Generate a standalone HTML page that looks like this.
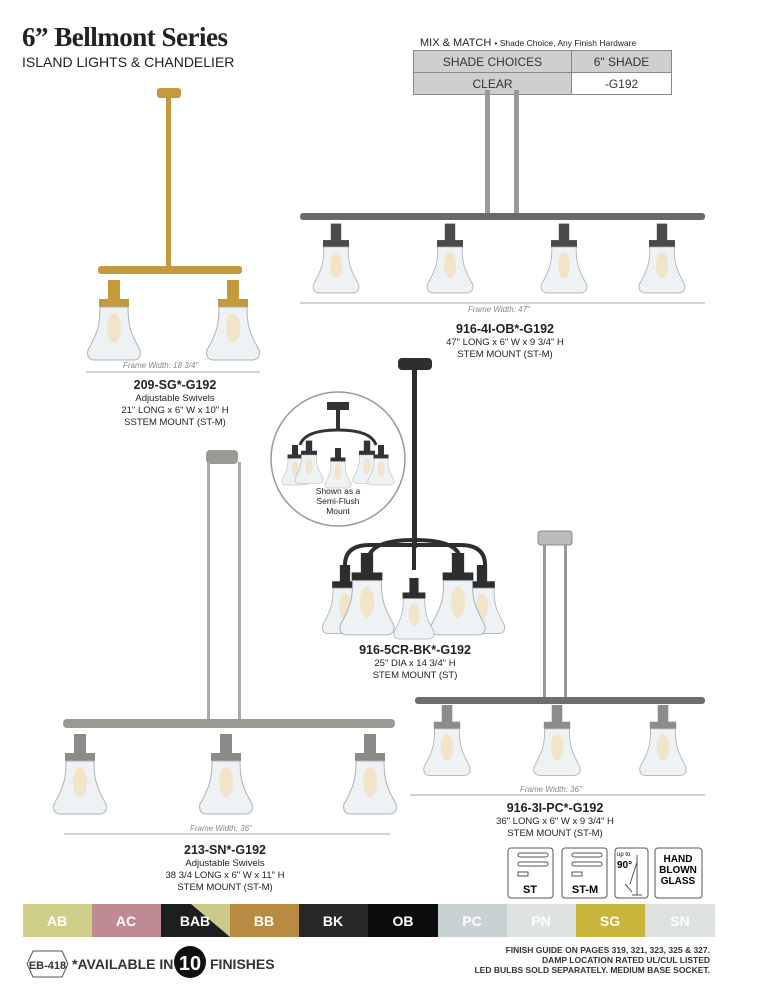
<!DOCTYPE html>
<html><head><meta charset="utf-8"><style>
body{margin:0;width:770px;height:1000px;background:#fff;position:relative;overflow:hidden;font-family:"Liberation Sans",sans-serif;color:#222}
.a{position:absolute}
.lbl{position:absolute;text-align:center;font-size:9.5px;line-height:12px;color:#222}
.lbl b{font-size:12.5px;line-height:14px}
.fw{position:absolute;font-size:8px;font-style:italic;color:#888}
</style></head><body>
<div class="a" style="left:22px;top:22px;font-family:'Liberation Serif',serif;font-weight:bold;font-size:27px;letter-spacing:-0.5px">6” Bellmont Series</div>
<div class="a" style="left:22px;top:54px;font-size:14px">ISLAND LIGHTS &amp; CHANDELIER</div>
<div class="a" style="left:420px;top:37px;font-size:11px;white-space:nowrap">MIX &amp; MATCH <span style="font-size:8.5px">• Shade Choice, Any Finish Hardware</span></div>
<table class="a" style="left:413px;top:50px;border-collapse:collapse;font-size:12px;color:#333">
<tr><td style="width:155px;height:19px;background:#cfcfcf;border:1px solid #888;text-align:center">SHADE CHOICES</td><td style="width:97px;background:#cfcfcf;border:1px solid #888;text-align:center">6" SHADE</td></tr>
<tr><td style="height:19px;background:#cfcfcf;border:1px solid #888;text-align:center">CLEAR</td><td style="border:1px solid #888;text-align:center">-G192</td></tr>
</table>
<svg class="a" style="left:0;top:0" width="770" height="1000">
<defs>
<symbol id="sh" viewBox="-30 0 60 84" overflow="visible">
<rect x="-6" y="0" width="12" height="20" fill="currentColor"/>
<rect x="-15" y="19" width="30" height="8" fill="currentColor"/>
<path d="M-14,27 C-14,45 -16,52 -26,70 Q-28,79 -20,80 L20,80 Q28,79 26,70 C16,52 14,45 14,27 Z" fill="#eef2f4" stroke="#aab3b8" stroke-width="1"/>
<ellipse cx="0" cy="48" rx="7" ry="15" fill="#f1e4c8"/>
</symbol>
</defs>
<!-- 209-SG gold -->
<g color="#c49a3c">
<rect x="157" y="88" width="24" height="10" rx="3" fill="#c49a3c"/>
<rect x="166" y="97" width="5" height="170" fill="#c49a3c"/>
<rect x="98" y="266" width="144" height="8" rx="3" fill="#c49a3c"/>
<use href="#sh" x="84" y="280" width="60" height="84"/>
<use href="#sh" x="203" y="280" width="60" height="84"/>
</g>
<line x1="86" y1="372" x2="260" y2="372" stroke="#888" stroke-width="0.8"/>
<!-- 916-4I-OB -->
<g color="#4a4a48">
<rect x="485" y="90" width="5" height="124" fill="#9a9a98"/>
<rect x="514" y="90" width="5" height="124" fill="#9a9a98"/>
<rect x="300" y="213" width="405" height="7" rx="3" fill="#6a6a68"/>
<use href="#sh" x="310" y="222" width="52" height="76"/>
<use href="#sh" x="424" y="222" width="52" height="76"/>
<use href="#sh" x="538" y="222" width="52" height="76"/>
<use href="#sh" x="636" y="222" width="52" height="76"/>
</g>
<line x1="300" y1="303" x2="705" y2="303" stroke="#888" stroke-width="0.8"/>
<!-- circle inset -->
<circle cx="338" cy="459" r="67" fill="#fff" stroke="#999" stroke-width="1.5"/>
<g color="#333">
<rect x="327" y="402" width="22" height="8" fill="#333"/>
<rect x="336" y="410" width="4" height="20" fill="#333"/>
<path d="M300,445 Q305,430 338,430 Q371,430 376,445" fill="none" stroke="#333" stroke-width="3"/>
<use href="#sh" x="280" y="445" width="30" height="42"/>
<use href="#sh" x="293" y="440" width="32" height="46"/>
<use href="#sh" x="323" y="448" width="30" height="42"/>
<use href="#sh" x="351" y="440" width="32" height="46"/>
<use href="#sh" x="366" y="445" width="30" height="42"/>
</g>
<!-- chandelier BK -->
<g color="#2e2e2e">
<rect x="398" y="358" width="34" height="12" rx="4" fill="#2e2e2e"/>
<rect x="412" y="368" width="5" height="180" fill="#2e2e2e"/>
<path d="M345,565 Q345,545 370,545 L460,545 Q485,545 485,565 M368,560 Q370,540 414,540 Q460,540 460,560 M414,545 L414,570" fill="none" stroke="#2e2e2e" stroke-width="4"/>
<use href="#sh" x="319" y="565" width="52" height="72"/>
<use href="#sh" x="456" y="565" width="52" height="72"/>
<use href="#sh" x="336" y="553" width="62" height="86"/>
<use href="#sh" x="427" y="553" width="62" height="86"/>
<use href="#sh" x="386" y="578" width="56" height="64"/>
</g>
<!-- 213-SN -->
<g color="#8a8a86">
<rect x="206" y="450" width="32" height="14" rx="4" fill="#9a9a96"/>
<rect x="207" y="462" width="3" height="258" fill="#aaa"/>
<rect x="238" y="462" width="3" height="258" fill="#aaa"/>
<rect x="63" y="719" width="332" height="9" rx="4" fill="#9a9a94"/>
<use href="#sh" x="50" y="733" width="60" height="86"/>
<use href="#sh" x="196" y="733" width="60" height="86"/>
<use href="#sh" x="340" y="733" width="60" height="86"/>
</g>
<line x1="64" y1="834" x2="390" y2="834" stroke="#888" stroke-width="0.8"/>
<!-- 916-3I-PC -->
<g color="#8c8c8c">
<rect x="538" y="531" width="34" height="14" rx="3" fill="#bbb" stroke="#888"/>
<rect x="543" y="545" width="3" height="152" fill="#999"/>
<rect x="564" y="545" width="3" height="152" fill="#999"/>
<rect x="415" y="697" width="290" height="7" rx="3" fill="#6e6e6e"/>
<use href="#sh" x="420" y="705" width="54" height="74"/>
<use href="#sh" x="530" y="705" width="54" height="74"/>
<use href="#sh" x="636" y="705" width="54" height="74"/>
</g>
<line x1="410" y1="795" x2="705" y2="795" stroke="#888" stroke-width="0.8"/>
<!-- icons -->
<g fill="#fff" stroke="#555" stroke-width="1">
<rect x="508" y="848" width="45" height="50" rx="3"/>
<rect x="562" y="848" width="45" height="50" rx="3"/>
<rect x="615" y="848" width="33" height="50" rx="3"/>
<rect x="655" y="848" width="47" height="50" rx="3"/>
<rect x="518" y="853" width="30" height="4" rx="2"/><rect x="518" y="862" width="30" height="4" rx="2"/><rect x="518" y="872" width="10" height="4"/>
<rect x="572" y="853" width="30" height="4" rx="2"/><rect x="572" y="862" width="30" height="4" rx="2"/><rect x="572" y="872" width="10" height="4"/>
<path d="M637,855 L637,895 M632,895 L642,895 M637,862 L630,884 M625,884 L632,892" fill="none"/>
</g>
<text x="530" y="893" font-size="11" font-weight="bold" text-anchor="middle" font-family="Liberation Sans">ST</text>
<text x="585" y="893" font-size="11" font-weight="bold" text-anchor="middle" font-family="Liberation Sans">ST-M</text>
<text x="617" y="856" font-size="6" font-family="Liberation Sans">up to</text>
<text x="617" y="868" font-size="10" font-weight="bold" font-family="Liberation Sans">90°</text>
<text x="678" y="862" font-size="10" font-weight="bold" text-anchor="middle" font-family="Liberation Sans">HAND</text>
<text x="678" y="873" font-size="10" font-weight="bold" text-anchor="middle" font-family="Liberation Sans">BLOWN</text>
<text x="678" y="884" font-size="10" font-weight="bold" text-anchor="middle" font-family="Liberation Sans">GLASS</text>
<!-- finishes -->
<rect x="23" y="904" width="69" height="33" fill="#cfcf8a"/>
<rect x="92" y="904" width="69" height="33" fill="#c08a94"/>
<rect x="161" y="904" width="69" height="33" fill="#1c1e20"/>
<path d="M161,904 L191,904 L230,937 L230,904 Z" fill="#cbc88a"/>
<rect x="230" y="904" width="69" height="33" fill="#b98a42"/>
<rect x="299" y="904" width="69" height="33" fill="#26282a"/>
<rect x="368" y="904" width="70" height="33" fill="#0c0c0c"/>
<rect x="438" y="904" width="69" height="33" fill="#c9d2d2"/>
<rect x="507" y="904" width="69" height="33" fill="#dfe4e2"/>
<rect x="576" y="904" width="69" height="33" fill="#c9b43c"/>
<rect x="645" y="904" width="70" height="33" fill="#dde2e0"/>
<g font-family="Liberation Sans" font-weight="bold" font-size="14" fill="#fff" text-anchor="middle">
<text x="57" y="926">AB</text><text x="126" y="926">AC</text><text x="195" y="926">BAB</text><text x="264" y="926">BB</text><text x="333" y="926">BK</text><text x="403" y="926">OB</text><text x="472" y="926">PC</text><text x="541" y="926">PN</text><text x="610" y="926">SG</text><text x="680" y="926">SN</text>
</g>
<polygon points="27,964 33,951 62,951 68,964 62,977 33,977" fill="#fff" stroke="#555"/>
<text x="47.5" y="969" font-size="11" font-weight="bold" text-anchor="middle" font-family="Liberation Sans" fill="#333">EB-418</text>
<text x="72" y="969" font-size="14" font-weight="bold" font-family="Liberation Sans" fill="#333">*AVAILABLE IN</text>
<circle cx="190" cy="962" r="16" fill="#111"/>
<text x="190" y="970" font-size="20" font-weight="bold" text-anchor="middle" fill="#fff" font-family="Liberation Sans">10</text>
<text x="210" y="969" font-size="14" font-weight="bold" font-family="Liberation Sans" fill="#333">FINISHES</text>
</svg>
<div class="fw" style="left:123px;top:361px">Frame Width: 18 3/4"</div>
<div class="fw" style="left:468px;top:305px">Frame Width: 47"</div>
<div class="fw" style="left:190px;top:824px">Frame Width: 36"</div>
<div class="fw" style="left:520px;top:785px">Frame Width: 36"</div>
<div class="lbl" style="left:90px;top:378px;width:170px"><b>209-SG*-G192</b><br>Adjustable Swivels<br>21" LONG x 6" W x 10" H<br>SSTEM MOUNT (ST-M)</div>
<div class="lbl" style="left:410px;top:322px;width:190px"><b>916-4I-OB*-G192</b><br>47" LONG x 6" W x 9 3/4" H<br>STEM MOUNT (ST-M)</div>
<div class="lbl" style="left:300px;top:486px;width:76px;font-size:8.5px;line-height:10px">Shown as a<br>Semi-Flush<br>Mount</div>
<div class="lbl" style="left:320px;top:643px;width:190px"><b>916-5CR-BK*-G192</b><br>25" DIA x 14 3/4" H<br>STEM MOUNT (ST)</div>
<div class="lbl" style="left:460px;top:801px;width:190px"><b>916-3I-PC*-G192</b><br>36" LONG x 6" W x 9 3/4" H<br>STEM MOUNT (ST-M)</div>
<div class="lbl" style="left:130px;top:843px;width:190px"><b>213-SN*-G192</b><br>Adjustable Swivels<br>38 3/4 LONG x 6" W x 11" H<br>STEM MOUNT (ST-M)</div>
<div class="a" style="right:60px;top:945px;text-align:right;font-size:8.5px;font-weight:bold;line-height:10px;color:#333">FINISH GUIDE ON PAGES 319, 321, 323, 325 &amp; 327.<br>DAMP LOCATION RATED UL/CUL LISTED<br>LED BULBS SOLD SEPARATELY. MEDIUM BASE SOCKET.</div>
</body></html>
